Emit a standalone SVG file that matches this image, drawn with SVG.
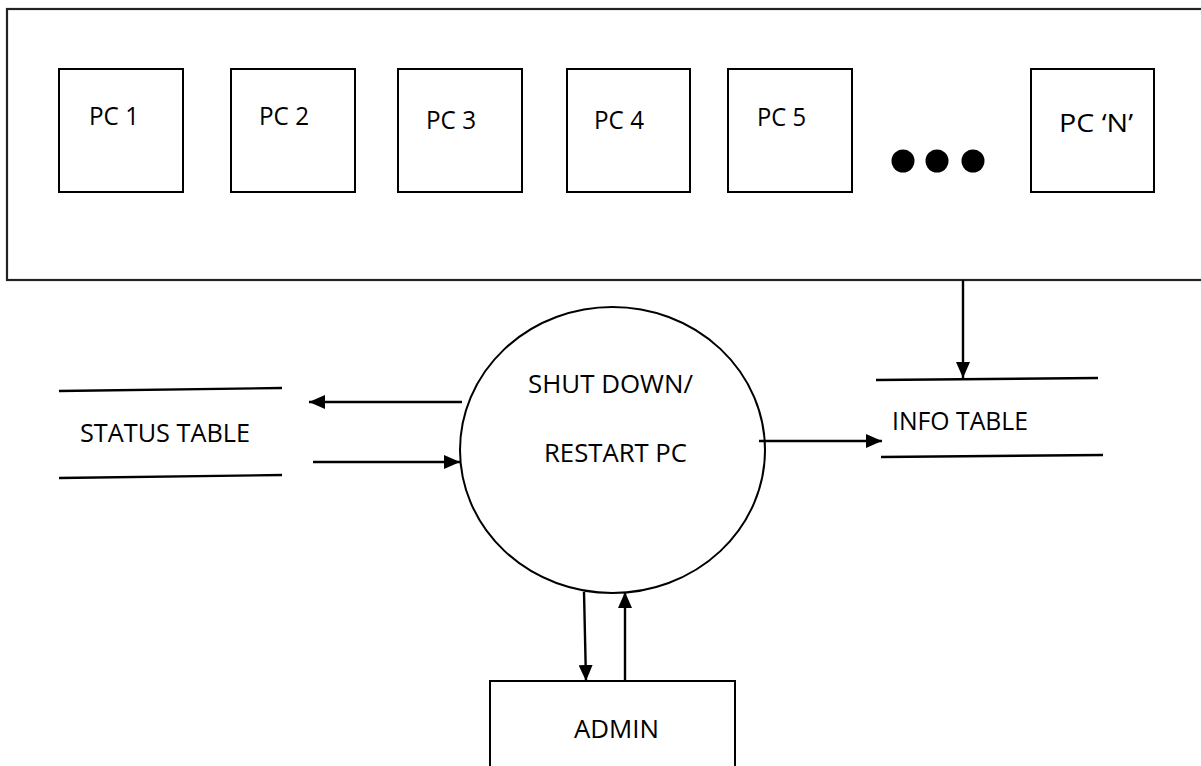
<svg xmlns="http://www.w3.org/2000/svg" width="1201" height="766" viewBox="0 0 1201 766">
<style>
  .box{fill:#fff;stroke:#000;stroke-width:2}
  .ln{fill:none;stroke:#000;stroke-width:2.4}
  .t{font-family:"Open Sans","Liberation Sans",sans-serif;font-size:25.5px;fill:#000}
</style>
<defs>
  <marker id="ah" markerUnits="userSpaceOnUse" markerWidth="16" markerHeight="14" refX="16" refY="7" orient="auto">
    <path d="M0,0 L16,7 L0,14 z" fill="#000"/>
  </marker>
</defs>
<rect width="1201" height="766" fill="#fff"/>
<g id="network">
  <rect class="box" x="7" y="9" width="1200" height="271" style="stroke:#222;stroke-width:2.2"/>
</g>
<g id="pc1"><rect class="box" x="59" y="69" width="124" height="123"/><text class="t" x="89" y="125" textLength="50" lengthAdjust="spacingAndGlyphs">PC 1</text></g>
<g id="pc2"><rect class="box" x="231" y="69" width="124" height="123"/><text class="t" x="259" y="125" textLength="50" lengthAdjust="spacingAndGlyphs">PC 2</text></g>
<g id="pc3"><rect class="box" x="398" y="69" width="124" height="123"/><text class="t" x="426" y="129" textLength="50" lengthAdjust="spacingAndGlyphs">PC 3</text></g>
<g id="pc4"><rect class="box" x="567" y="69" width="123" height="123"/><text class="t" x="594" y="129" textLength="50" lengthAdjust="spacingAndGlyphs">PC 4</text></g>
<g id="pc5"><rect class="box" x="728" y="69" width="124" height="123"/><text class="t" x="757" y="126" textLength="49" lengthAdjust="spacingAndGlyphs">PC 5</text></g>
<g id="ellipsis">
  <circle cx="903" cy="161" r="11.5" fill="#000"/>
  <circle cx="937" cy="161" r="11.5" fill="#000"/>
  <circle cx="973" cy="161" r="11.5" fill="#000"/>
</g>
<g id="pcN"><rect class="box" x="1031" y="69" width="123" height="123"/><text class="t" x="1059" y="132" textLength="74" lengthAdjust="spacingAndGlyphs">PC ‘N’</text></g>
<g id="process">
  <ellipse class="box" cx="612.5" cy="450" rx="152.5" ry="143"/>
  <text class="t" x="528" y="393" textLength="165" lengthAdjust="spacingAndGlyphs">SHUT DOWN/</text>
  <text class="t" x="544" y="462" textLength="143" lengthAdjust="spacingAndGlyphs">RESTART PC</text>
</g>
<g id="status-table">
  <line class="ln" x1="59" y1="391" x2="282" y2="388"/>
  <line class="ln" x1="59" y1="478" x2="282" y2="475"/>
  <text class="t" x="80" y="442" textLength="170" lengthAdjust="spacingAndGlyphs">STATUS TABLE</text>
</g>
<g id="info-table">
  <line class="ln" x1="876" y1="380" x2="1098" y2="378"/>
  <line class="ln" x1="881" y1="457" x2="1103" y2="455"/>
  <text class="t" x="892" y="430" textLength="136" lengthAdjust="spacingAndGlyphs">INFO TABLE</text>
</g>
<g id="admin">
  <rect class="box" x="490" y="681" width="245" height="100"/>
  <text class="t" x="574" y="738" textLength="85" lengthAdjust="spacingAndGlyphs">ADMIN</text>
</g>
<g id="connectors">
  <line class="ln" x1="462" y1="402" x2="309" y2="402" marker-end="url(#ah)"/>
  <line class="ln" x1="313" y1="462" x2="460" y2="462" marker-end="url(#ah)"/>
  <line class="ln" x1="963" y1="280" x2="963" y2="378" marker-end="url(#ah)"/>
  <line class="ln" x1="759" y1="441" x2="882" y2="441" marker-end="url(#ah)"/>
  <line class="ln" x1="584" y1="592" x2="586" y2="681" marker-end="url(#ah)"/>
  <line class="ln" x1="625" y1="681" x2="625" y2="592" marker-end="url(#ah)"/>
</g>
</svg>
